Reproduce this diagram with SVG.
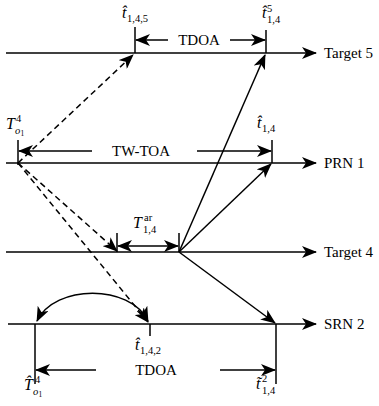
<svg xmlns="http://www.w3.org/2000/svg" width="379" height="406" viewBox="0 0 379 406">
<defs>
<marker id="ah" viewBox="0 0 15 12" refX="14" refY="6" markerWidth="15" markerHeight="12" markerUnits="userSpaceOnUse" orient="auto-start-reverse">
<path d="M0,0 L15,6 L0,12 L4,6 Z" fill="#000"/>
</marker>
<style>
.ln{stroke:#000;stroke-width:1.5;fill:none}
.ar{stroke:#000;stroke-width:1.5;fill:none;marker-end:url(#ah)}
.da{stroke:#000;stroke-width:1.5;fill:none;stroke-dasharray:6,4;marker-end:url(#ah)}
text{font-family:"Liberation Serif","DejaVu Serif","Times New Roman",serif;fill:#000}
.tx{font-size:15px}
.mi{font-size:16px;font-style:italic}
.sb{font-size:10.5px}
.si{font-size:10.5px;font-style:italic}
.s7{font-size:7.5px}
</style>
</defs>
<g id="timelines">
<g id="target5"><line class="ar" x1="6" y1="53" x2="316" y2="53"/><text class="tx" x="324" y="58">Target 5</text></g>
<g id="prn1"><line class="ar" x1="6" y1="163" x2="316" y2="163"/><text class="tx" x="324" y="168">PRN 1</text></g>
<g id="target4"><line class="ar" x1="6" y1="252" x2="316" y2="252"/><text class="tx" x="324" y="257">Target 4</text></g>
<g id="srn2"><line class="ar" x1="8" y1="324" x2="316" y2="324"/><text class="tx" x="324" y="329">SRN 2</text></g>
</g>
<g id="ticks">
<line class="ln" x1="135" y1="27" x2="135" y2="53"/>
<line class="ln" x1="266" y1="30" x2="266" y2="53"/>
<line class="ln" x1="18" y1="140" x2="18" y2="165"/>
<line class="ln" x1="272" y1="140" x2="272" y2="163"/>
<line class="ln" x1="117" y1="233" x2="117" y2="252"/>
<line class="ln" x1="179" y1="233" x2="179" y2="252"/>
<line class="ln" x1="150" y1="324" x2="150" y2="336"/>
<line class="ln" x1="35" y1="324" x2="35" y2="384"/>
<line class="ln" x1="276" y1="324" x2="276" y2="384"/>
</g>
<g id="connectors">
<line class="da" x1="18" y1="163" x2="133" y2="55"/>
<line class="da" x1="18" y1="163" x2="117" y2="251"/>
<line class="da" x1="18" y1="163" x2="148" y2="322"/>
<line class="ar" x1="179" y1="252" x2="265" y2="55"/>
<line class="ar" x1="179" y1="252" x2="271" y2="164"/>
<line class="ar" x1="179" y1="252" x2="275" y2="323"/>
<path class="ar" style="marker-start:url(#ah)" d="M148,321 C130,284 55,284 37,321"/>
</g>
<g id="measures">
<line class="ar" x1="168" y1="40" x2="136" y2="40"/>
<line class="ar" x1="230" y1="40" x2="265" y2="40"/>
<text class="tx" x="199" y="45" text-anchor="middle">TDOA</text>
<line class="ar" x1="92" y1="151" x2="19" y2="151"/>
<line class="ar" x1="197" y1="151" x2="271" y2="151"/>
<text class="tx" x="141" y="156" text-anchor="middle">TW-TOA</text>
<line class="ar" style="marker-start:url(#ah)" x1="118" y1="246" x2="178" y2="246"/>
<line class="ar" x1="96" y1="370" x2="36" y2="370"/>
<line class="ar" x1="220" y1="370" x2="275" y2="370"/>
<text class="tx" x="156" y="375" text-anchor="middle">TDOA</text>
</g>
<g id="labels">
<g id="lbl-t145"><text class="mi" x="122" y="18">t̂</text><text class="sb" x="127" y="22">1,4,5</text></g>
<g id="lbl-t5-14"><text class="mi" x="262" y="18">t̂</text><text class="sb" x="267" y="12">5</text><text class="sb" x="267" y="23">1,4</text></g>
<g id="lbl-To1"><text class="mi" x="6" y="129">T</text><text class="sb" x="16" y="122">4</text><text class="si" x="15" y="134">o</text><text class="s7" x="20.5" y="136">1</text></g>
<g id="lbl-t14"><text class="mi" x="257" y="128">t̂</text><text class="sb" x="262" y="132">1,4</text></g>
<g id="lbl-Tar"><text class="mi" x="133" y="228">T</text><text class="sb" x="144" y="221">ar</text><text class="sb" x="143" y="233">1,4</text></g>
<g id="lbl-t142"><text class="mi" x="135" y="350">t̂</text><text class="sb" x="140" y="354">1,4,2</text></g>
<g id="lbl-That"><text class="mi" x="24" y="390">T̂</text><text class="sb" x="35" y="383">4</text><text class="si" x="33" y="395">o</text><text class="s7" x="38.5" y="397">1</text></g>
<g id="lbl-t2-14"><text class="mi" x="256" y="389">t̃</text><text class="sb" x="262" y="382">2</text><text class="sb" x="262" y="394">1,4</text></g>
</g>
</svg>
